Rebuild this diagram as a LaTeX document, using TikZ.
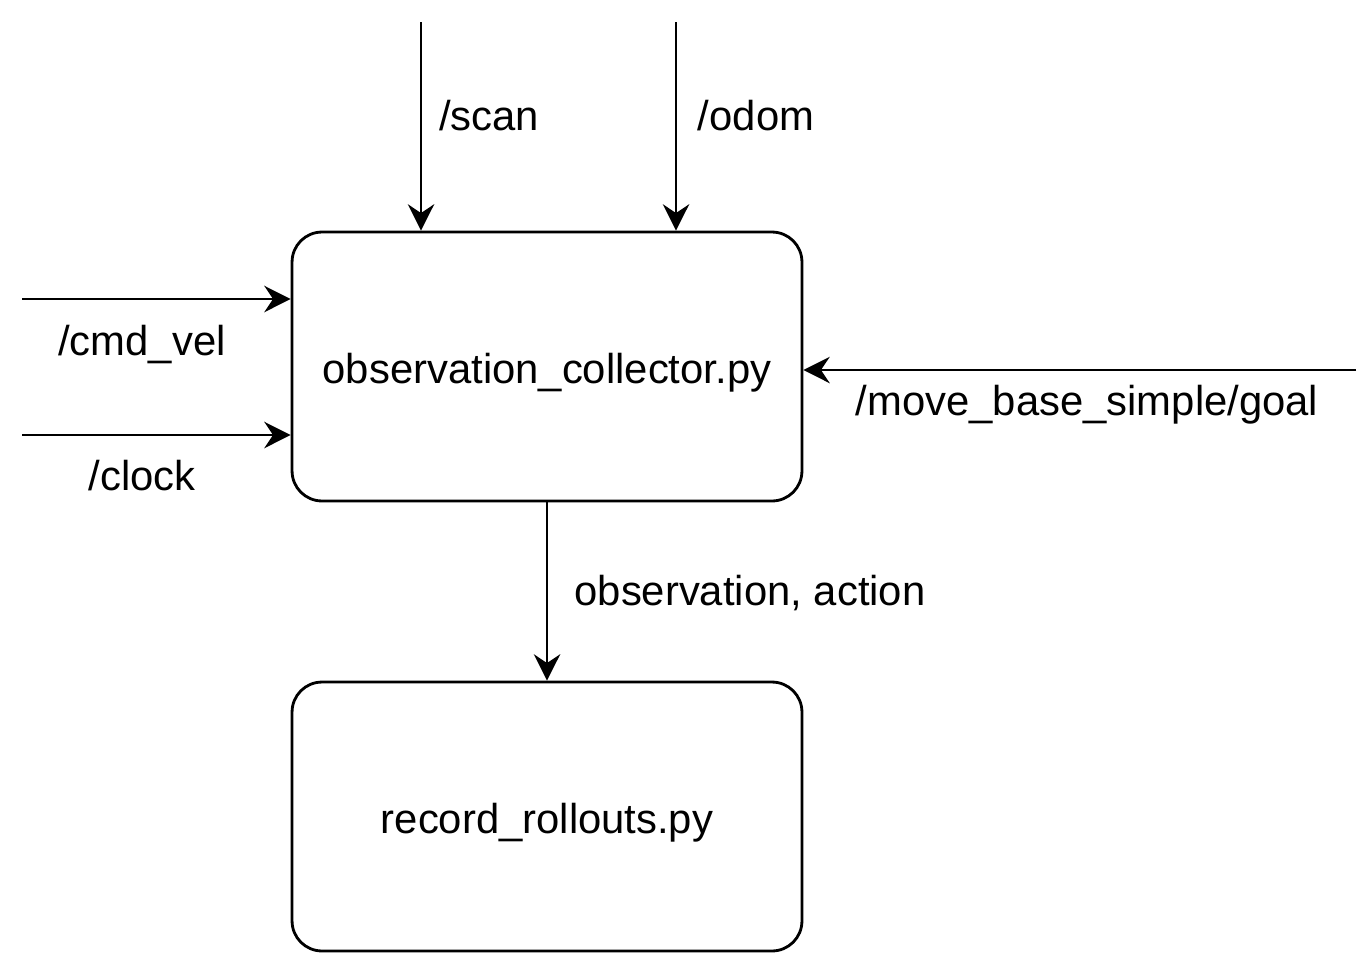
\documentclass[tikz,border=0pt]{standalone}
\usepackage{fontspec}
\setmainfont{Liberation Sans}
\usetikzlibrary{arrows.meta, positioning}

\begin{document}
\begin{tikzpicture}[x=0.02cm, y=-0.02cm,
    proc/.style={draw, line width=1.6pt, rounded corners=0.6cm, minimum width=10.2cm, minimum height=5.38cm, text height=24pt, text depth=5pt, font=\fontsize{23.8}{28}\selectfont},
    flow/.style={line width=1.6pt, -{Stealth[length=15pt, width=15pt, inset=5pt]}},
    topic/.style={font=\fontsize{23.8}{28}\selectfont}]
  \useasboundingbox (0,0) rectangle (1368,954);

  % The two nodes
  \node[proc] (obs) at (547,366.5) {observation\_collector.py};
  \node[proc] (rec) at (547,816.5) {record\_rollouts.py};

  % Free ends of the incoming topics
  \coordinate (scanin) at (421,22);
  \coordinate (odomin) at (676,22);
  \coordinate (cmdin) at (22,299);
  \coordinate (clockin) at (22,435);
  \coordinate (goalin) at (1356,370);

  % Topics into the collector
  \draw[flow] (scanin) -- (scanin |- obs.north);
  \draw[flow] (odomin) -- (odomin |- obs.north);
  \draw[flow] (cmdin) -- (cmdin -| obs.west);
  \draw[flow] (clockin) -- (clockin -| obs.west);
  \draw[flow] (goalin) -- (goalin -| obs.east);

  % Collector to recorder
  \draw[flow] (obs.south) -- (rec.north);

  % Labels
  \node[topic] (scanlbl) at (489,116) {/scan};
  \node[topic] (odomlbl) at (756,116) {/odom};
  \node[topic] (cmdlbl) at (142,344) {/cmd\_vel};
  \node[topic] (clocklbl) at (142,476) {/clock};
  \node[topic] (goallbl) at (1087,405) {/move\_base\_simple/goal};
  \node[topic] (obslbl) at (750,593) {observation, action};
\end{tikzpicture}
\end{document}
